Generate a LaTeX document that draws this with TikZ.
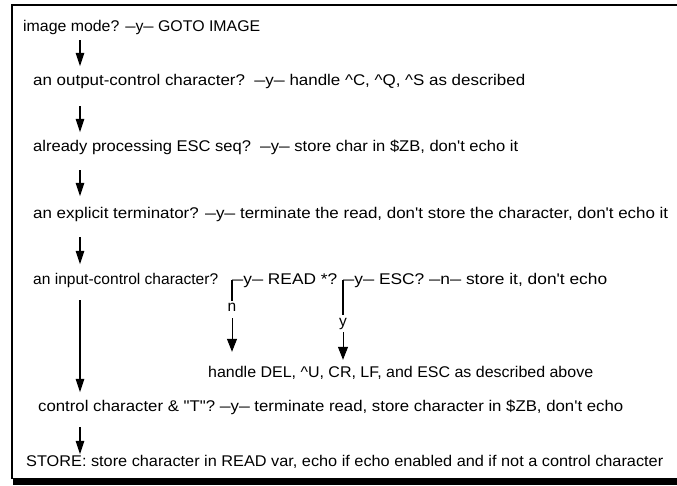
\documentclass[tikz,border=0pt]{standalone}
\usepackage{graphicx}
\usepackage{fontspec}
\setmainfont{Liberation Sans}
\usetikzlibrary{arrows.meta}
\newcommand\fw[2]{\resizebox{#1}{\height}{#2}}
\newcommand\ap{\textquotesingle}
\newcommand\dd{\resizebox{10pt}{\height}{—}}
\begin{document}
\begin{tikzpicture}[x=1pt,y=-1pt,
  txt/.style={anchor=west,inner sep=0pt,text height=11pt,text depth=3pt,font=\fontsize{15.5}{18}\selectfont},
  lbl/.style={inner sep=0pt,text height=8pt,text depth=0pt,font=\fontsize{15.5}{18}\selectfont},
  flow/.style={line width=2.6pt,-{Triangle[width=8pt,length=14pt]}},
  stub/.style={line width=2pt},
  branch/.style={line width=1pt,-{Triangle[width=10pt,length=13pt]}}]
\useasboundingbox (0,0) rectangle (677,486);
\clip (0,0) rectangle (677,486);
% frame with shadow
\draw[line width=2pt] (12,479) -- (12,5) -- (700,5);
\fill (13,478) rectangle (700,485);
% column of the main flow
\coordinate (col) at (80,0);
% rows
\node[txt] (q1) at (23,28) {\fw{237pt}{image mode? \dd y\dd\ GOTO IMAGE}};
\node[txt] (q2) at (33,82) {\fw{492pt}{an output-control character?\ \ \dd y\dd\ handle \textasciicircum C, \textasciicircum Q, \textasciicircum S as described}};
\node[txt] (q3) at (33,148) {\fw{485pt}{already processing ESC seq?\ \ \dd y\dd\ store char in \$ZB, don\ap t echo it}};
\node[txt] (q4) at (33,215) {\fw{635pt}{an explicit terminator? \dd y\dd\ terminate the read, don\ap t store the character, don\ap t echo it}};
\node[txt] (q5) at (33,280) {\fw{185pt}{an input-control character?}};
\node[txt] (r5) at (232,280) {\fw{105pt}{\dd y\dd\ READ *?}};
\node[txt] (s5) at (343,280) {\fw{264pt}{\dd y\dd\ ESC? \dd n\dd\ store it, don\ap t echo}};
\node[lbl] (nl) at (232,308) {n};
\node[lbl] (yl) at (343,322) {y};
\node[txt] (h) at (208,373) {\fw{385pt}{handle DEL, \textasciicircum U, CR, LF, and ESC as described above}};
\node[txt] (q7) at (38,407) {\fw{585pt}{control character \& \textquotedbl T\textquotedbl? \dd y\dd\ terminate read, store character in \$ZB, don\ap t echo}};
\node[txt] (q8) at (26,462) {\fw{637pt}{STORE: store character in READ var, echo if echo enabled and if not a control character}};
% main flow
\draw[flow,shorten <=5pt,shorten >=8pt] (q1.south -| col) -- (q2.north -| col);
\draw[flow,shorten <=17pt,shorten >=8pt] (q2.south -| col) -- (q3.north -| col);
\draw[flow,shorten <=15pt,shorten >=11pt] (q3.south -| col) -- (q4.north -| col);
\draw[flow,shorten <=15pt,shorten >=8pt] (q4.south -| col) -- (q5.north -| col);
\draw[flow,shorten <=13pt,shorten >=7pt] (q5.south -| col) -- (q7.north -| col);
\draw[flow,shorten <=13pt,shorten >=0pt] (q7.south -| col) -- (q8.north -| col);
% branches
\draw[stub] (r5.west) -- ([yshift=3pt]nl.north);
\draw[branch,shorten <=6pt,shorten >=14pt] (nl.south) -- (h.north -| nl);
\draw[stub] (s5.west) -- ([yshift=3pt]yl.north);
\draw[branch,shorten <=6pt,shorten >=6pt] (yl.south) -- (h.north -| yl);
\end{tikzpicture}
\end{document}
